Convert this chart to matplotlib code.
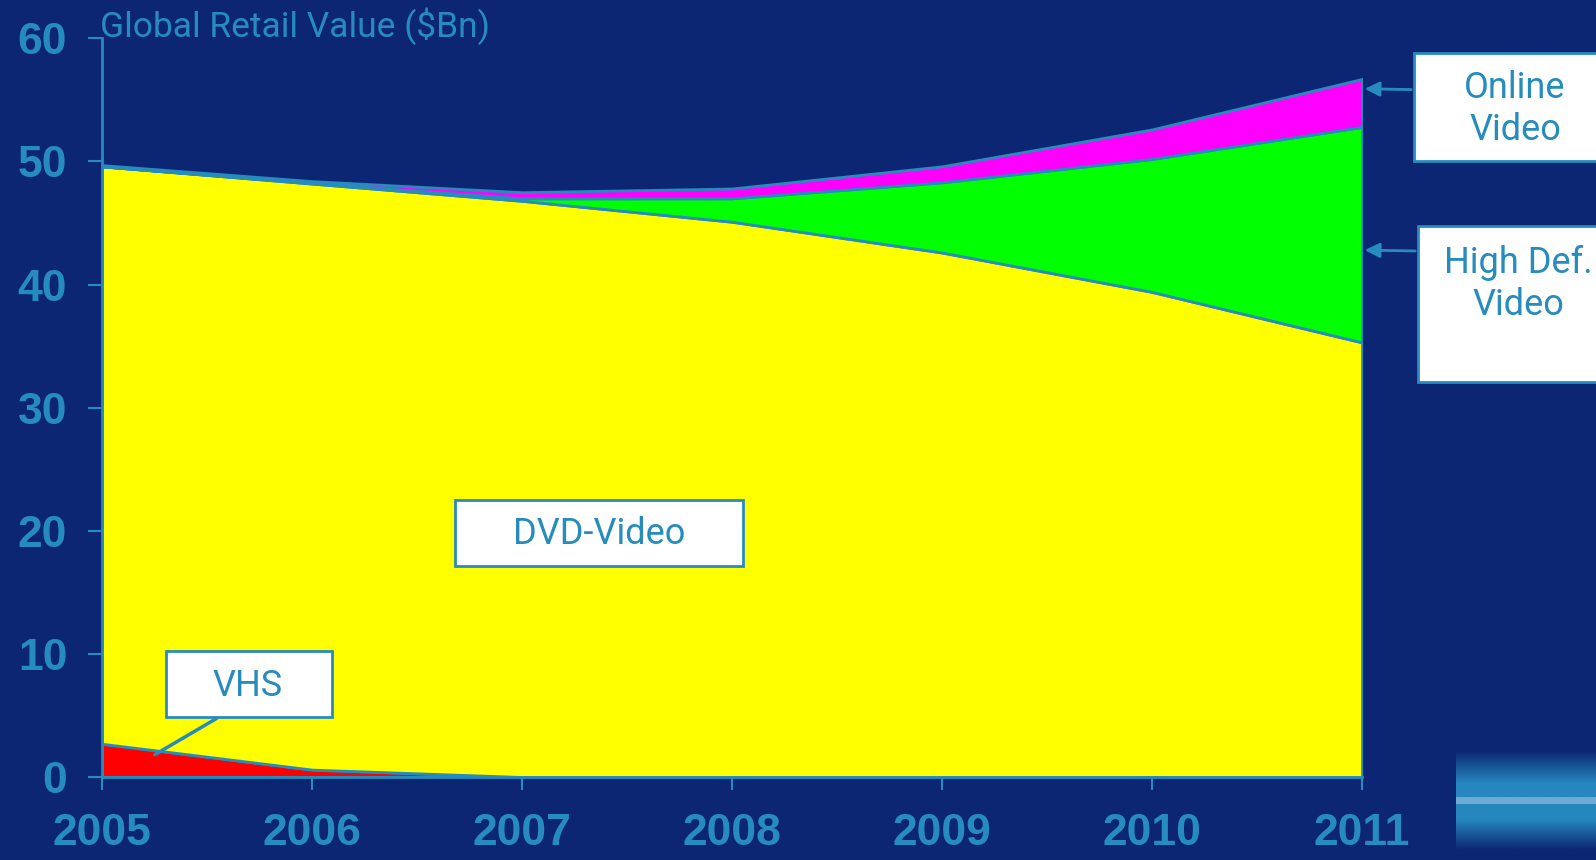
import numpy as np
import matplotlib
matplotlib.use('Agg')
import matplotlib.pyplot as plt
from matplotlib.patches import Rectangle

# Global retail value of home video ($Bn)
years = [2005, 2006, 2007, 2008, 2009, 2010, 2011]
vhs = [2.7, 0.6, 0.0, 0.0, 0.0, 0.0, 0.0]
dvd = [46.9, 47.6, 46.8, 45.1, 42.6, 39.4, 35.3]
hd_video = [0.0, 0.05, 0.2, 1.9, 5.7, 10.8, 17.5]
online_video = [0.1, 0.15, 0.5, 0.8, 1.3, 2.4, 3.9]
series_colors = ['#ff0000', '#ffff00', '#00ff00', '#ff00ff']
yticks = [0, 10, 20, 30, 40, 50, 60]

BG = '#0c2673'
BLUE = '#268cbe'
W, H = 1596, 860

fig = plt.figure(figsize=(W / 100, H / 100), dpi=100, facecolor=BG)
ax = fig.add_axes([102 / W, 1 - 777 / H, 1260 / W, (777 - 38.3) / H])
ax.set_facecolor(BG)

ax.stackplot(years, vhs, dvd, hd_video, online_video, colors=series_colors,
             edgecolor=BLUE, linewidth=2)

ax.set_xlim(2005, 2011)
ax.set_ylim(0, 60)
ax.set_xticks(years)
ax.set_yticks(yticks)
for s in ['top', 'right']:
    ax.spines[s].set_visible(False)
for s in ['left', 'bottom']:
    ax.spines[s].set_color(BLUE)
    ax.spines[s].set_linewidth(2)
ax.tick_params(axis='y', colors=BLUE, length=10, width=1.5, pad=15)
ax.tick_params(axis='x', colors=BLUE, length=9, width=1.5, pad=17)
for lab in ax.get_xticklabels() + ax.get_yticklabels():
    lab.set_fontfamily('Liberation Sans')
    lab.set_fontweight('bold')
    lab.set_fontsize(32)

def fx(px):
    return px / W

def fy(py):
    return 1 - py / H

fig.text(fx(100), fy(26), 'Global Retail Value ($Bn)', color=BLUE,
         fontsize=25.5, fontfamily='Roboto', va='center', ha='left')

# label boxes
boxes = [
    (1414, 53, 200, 108, 'Online\nVideo', 1515, 109),
    (1418, 226, 200, 156, 'High Def.\nVideo', 1518, 284),
    (455, 500, 288, 66, 'DVD-Video', 599, 534),
    (166, 651, 166, 66, 'VHS', 248, 686),
]
for x0, y0, w, h, txt, tx, ty in boxes:
    fig.patches.append(Rectangle((fx(x0), fy(y0 + h)), w / W, h / H,
                                 transform=fig.transFigure, facecolor='white',
                                 edgecolor=BLUE, linewidth=2, zorder=5))
    fig.text(fx(tx), fy(ty), txt, color=BLUE, fontsize=26, fontfamily='Roboto',
             ha='center', va='center', linespacing=1.2, zorder=6)

arrow = dict(arrowstyle='-|>', color=BLUE, lw=2, mutation_scale=22)
ax.annotate('', xy=(2011, 55.9), xycoords='data',
            xytext=(fx(1414), fy(89.6)), textcoords='figure fraction',
            arrowprops=arrow, annotation_clip=False)
ax.annotate('', xy=(2011, 42.8), xycoords='data',
            xytext=(fx(1418), fy(251)), textcoords='figure fraction',
            arrowprops=arrow, annotation_clip=False)
ax.annotate('', xy=(2005.24, 1.7), xycoords='data',
            xytext=(fx(219), fy(717)), textcoords='figure fraction',
            arrowprops=dict(arrowstyle='-', color=BLUE, lw=2.5),
            annotation_clip=False)

# decorative gradient bar, bottom right
gax = fig.add_axes([fx(1456), fy(850), 140 / W, 100 / H])
gax.axis('off')
rows = np.linspace(0, 1, 100)
prof = np.clip(np.minimum(rows / 0.33, (1 - rows) / 0.3), 0, 1)
c0 = np.array([12, 38, 115]) / 255
c1 = np.array([38, 135, 190]) / 255
grad = c0[None, :] + (c1 - c0)[None, :] * prof[:, None]
stripe = (rows > 0.47) & (rows < 0.54)
grad[stripe] = np.array([110, 170, 212]) / 255
img = np.repeat(grad[:, None, :], 10, axis=1)
gax.imshow(img, aspect='auto', interpolation='bilinear')

fig.savefig('out.png', dpi=100, facecolor=BG)
